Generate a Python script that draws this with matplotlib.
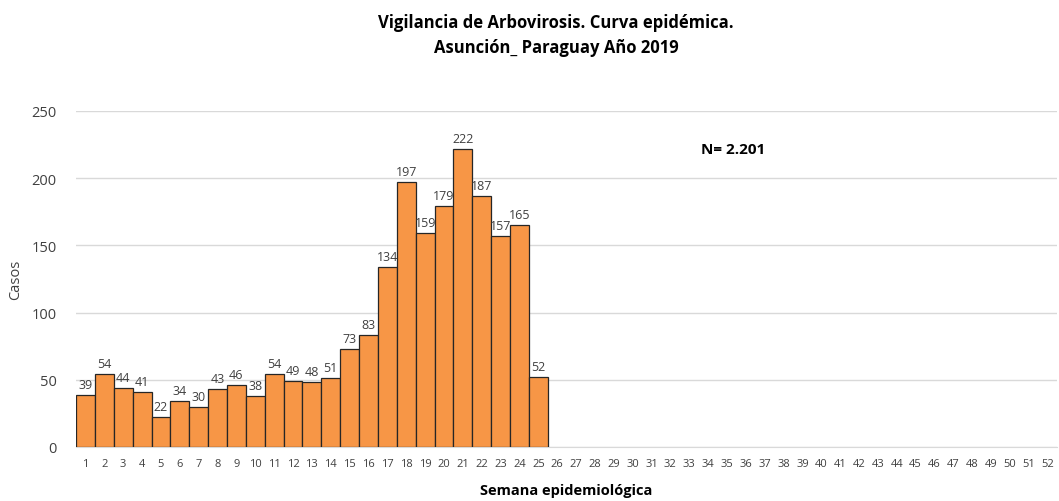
import numpy as np
import matplotlib.pyplot as plt

plt.rcParams['font.family'] = ['Open Sans', 'DejaVu Sans']

semanas = list(range(1, 53))
casos = [39, 54, 44, 41, 22, 34, 30, 43, 46, 38, 54, 49, 48, 51, 73, 83,
         134, 197, 159, 179, 222, 187, 157, 165, 52]

fig = plt.figure(figsize=(10.59, 5.02), dpi=100)
ax = fig.add_axes([0.0718, 0.1076, 0.9265, 0.6694])

x = np.arange(len(semanas))
ax.bar(x[:len(casos)], casos, width=1.0, color='#F79646',
       edgecolor='#262626', linewidth=0.9, zorder=3)
for xi, v in zip(x, casos):
    ax.text(xi, v + 3, str(v), ha='center', va='bottom', fontsize=9,
            color='#404040', zorder=4)

ax.set_xlim(-0.5, len(semanas) - 0.5)
ax.set_ylim(0, 250)
ax.set_yticks(range(0, 251, 50))
ax.set_xticks(x)
ax.set_xticklabels([str(s) for s in semanas], fontsize=8, color='#404040')
ax.tick_params(axis='y', labelsize=10.5, colors='#404040', length=0, pad=14)
ax.tick_params(axis='x', length=0, pad=8)
ax.grid(axis='y', color='#d9d9d9', linewidth=1, zorder=0)
for s in ['top', 'right', 'left']:
    ax.spines[s].set_visible(False)
ax.spines['bottom'].set_color('#d9d9d9')

ax.set_ylabel('Casos', fontsize=10.5, color='#404040', labelpad=6)
ax.set_xlabel('Semana epidemiológica', fontsize=10.5, fontweight='bold',
              color='#000000', labelpad=10)

fig.text(0.525, 0.955, 'Vigilancia de Arbovirosis. Curva epidémica.',
         ha='center', va='center', fontsize=12, fontweight='bold')
fig.text(0.525, 0.905, 'Asunción_ Paraguay Año 2019',
         ha='center', va='center', fontsize=12, fontweight='bold')
ax.text(34.3, 222, 'N= 2.201', ha='center', va='center', fontsize=11,
        fontweight='bold')

fig.savefig('out.png', dpi=100)
